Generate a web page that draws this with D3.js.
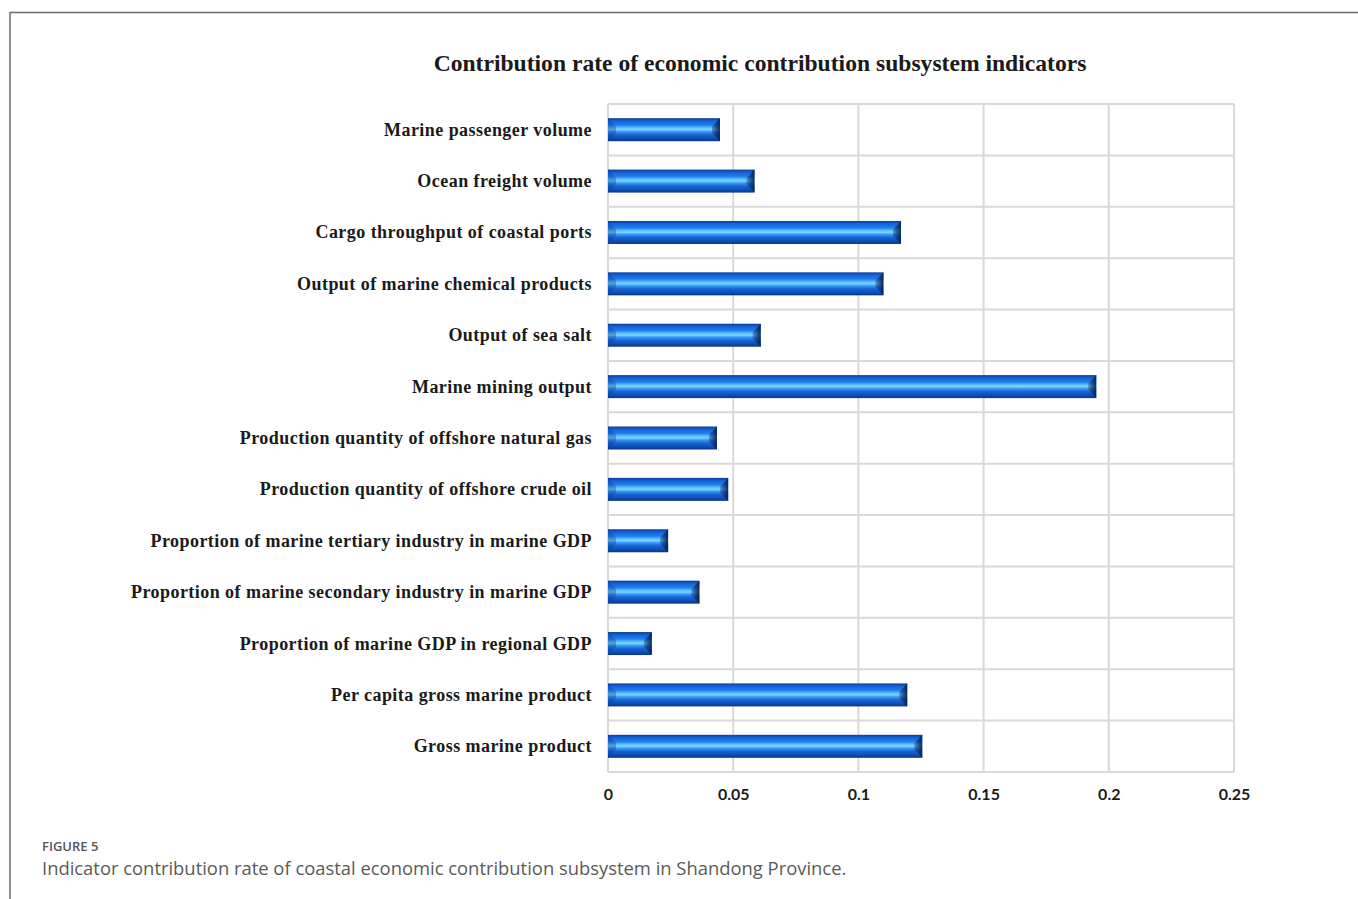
<!DOCTYPE html>
<html>
<head>
<meta charset="utf-8">
<script src="https://cdn.jsdelivr.net/npm/d3@7"></script>
<style>
  html, body { margin: 0; padding: 0; background: #fff; }
  svg { display: block; }
</style>
</head>
<body>
<svg id="chart" width="1358" height="899"></svg>
<script>
// Indicators, listed top to bottom
const categories = [
  "Marine passenger volume",
  "Ocean freight volume",
  "Cargo throughput of coastal ports",
  "Output of marine chemical products",
  "Output of sea salt",
  "Marine mining output",
  "Production quantity of offshore natural gas",
  "Production quantity of offshore crude oil ",
  "Proportion of marine tertiary industry in marine GDP",
  "Proportion of marine secondary industry in marine GDP",
  "Proportion of marine GDP in regional GDP",
  "Per capita gross marine product",
  "Gross marine product"
];
// Contribution rate of each indicator
const values = [0.0447, 0.0585, 0.117, 0.110, 0.061, 0.195, 0.0435, 0.048, 0.024, 0.0365, 0.0175, 0.1195, 0.1255];
const tickValues = [0, 0.05, 0.1, 0.15, 0.2, 0.25];
const tickLabels = ["0", "0.05", "0.1", "0.15", "0.2", "0.25"];

const svg = d3.select("#chart");

// outer figure border (top and left rules)
svg.append("line").attr("x1", 10).attr("y1", 12.5).attr("x2", 1358).attr("y2", 12.5)
  .attr("stroke", "#6b6b6b").attr("stroke-width", 1.5);
svg.append("line").attr("x1", 10).attr("y1", 12).attr("x2", 10).attr("y2", 899)
  .attr("stroke", "#6b6b6b").attr("stroke-width", 1.5);

const plot = { left: 608, right: 1234, top: 104, bottom: 772 };

const x = d3.scaleLinear().domain([0, 0.25]).range([plot.left, plot.right]);
const y = d3.scaleBand().domain(categories).range([plot.top, plot.bottom]).paddingInner(0).paddingOuter(0);

// gradient for the glossy cylinder bars
const defs = svg.append("defs");
const grad = defs.append("linearGradient").attr("id", "barGrad")
  .attr("x1", 0).attr("y1", 0).attr("x2", 0).attr("y2", 1);
[[0, "#0b3d93"], [0.12, "#1660d6"], [0.3, "#1f7ff0"], [0.42, "#5cc2ff"], [0.5, "#7fd3ff"],
 [0.58, "#3a9cf5"], [0.72, "#1565d6"], [0.88, "#0e4db5"], [1, "#0a3682"]]
  .forEach(([o, c]) => grad.append("stop").attr("offset", o).attr("stop-color", c));

const endGrad = defs.append("linearGradient").attr("id", "endGrad")
  .attr("x1", 0).attr("y1", 0).attr("x2", 1).attr("y2", 0);
endGrad.append("stop").attr("offset", 0).attr("stop-color", "#0a2f6e").attr("stop-opacity", 0.35);
endGrad.append("stop").attr("offset", 1).attr("stop-color", "#06214f").attr("stop-opacity", 0.95);

// grid
const grid = svg.append("g");
grid.selectAll("line.v").data(tickValues).join("line")
  .attr("x1", d => x(d)).attr("x2", d => x(d))
  .attr("y1", plot.top).attr("y2", plot.bottom)
  .attr("stroke", "#d9d9d9").attr("stroke-width", 2);
const hLines = categories.map(c => y(c)).concat([plot.bottom]);
grid.selectAll("line.h").data(hLines).join("line")
  .attr("x1", plot.left).attr("x2", plot.right)
  .attr("y1", d => d).attr("y2", d => d)
  .attr("stroke", "#d9d9d9").attr("stroke-width", 2);

// bars
const barH = 23;
const bars = svg.append("g").selectAll("g").data(categories).join("g");
bars.append("rect")
  .attr("x", x(0))
  .attr("y", (d) => y(d) + (y.bandwidth() - barH) / 2)
  .attr("width", (d, i) => x(values[i]) - x(0))
  .attr("height", barH)
  .attr("fill", "url(#barGrad)");
// bevelled right end
bars.append("polygon")
  .attr("points", (d, i) => {
    const x1 = x(values[i]), y0 = y(d) + (y.bandwidth() - barH) / 2, b = 8;
    return [[x1, y0], [x1, y0 + barH], [x1 - b, y0 + barH / 2 + 3], [x1 - b, y0 + barH / 2 - 3]].join(" ");
  })
  .attr("fill", "url(#endGrad)");
// bevelled left end, lighter
bars.append("polygon")
  .attr("points", (d) => {
    const x0 = x(0), y0 = y(d) + (y.bandwidth() - barH) / 2, b = 8;
    return [[x0, y0], [x0 + b, y0 + barH / 2 - 3], [x0 + b, y0 + barH / 2 + 3], [x0, y0 + barH]].join(" ");
  })
  .attr("fill", "#0a3a8a").attr("opacity", 0.35);

// category labels
svg.append("g").selectAll("text").data(categories).join("text")
  .attr("x", 592)
  .attr("y", d => y(d) + y.bandwidth() / 2 + 6)
  .attr("text-anchor", "end")
  .attr("font-family", "'Liberation Serif', 'Times New Roman', serif")
  .attr("font-weight", "bold")
  .attr("font-size", 18)
  .attr("letter-spacing", 0.45)
  .attr("fill", "#1a1a1a")
  .text(d => d);

// x axis tick labels
const xAxis = d3.axisBottom(x).tickValues(tickValues).tickFormat((d, i) => tickLabels[i]).tickSize(0).tickPadding(0);
const axisG = svg.append("g").attr("transform", `translate(0, ${plot.bottom + 17})`).call(xAxis);
axisG.select(".domain").remove();
axisG.selectAll("text")
  .attr("font-family", "Lato, 'Open Sans', sans-serif")
  .attr("font-weight", "bold")
  .attr("font-size", 16)
  .attr("fill", "#1a1a1a");

// title
svg.append("text")
  .attr("x", 760).attr("y", 71)
  .attr("text-anchor", "middle")
  .attr("font-family", "'Liberation Serif', 'Times New Roman', serif")
  .attr("font-weight", "bold")
  .attr("font-size", 23.6)
  .attr("fill", "#1a1a1a")
  .text("Contribution  rate of economic contribution  subsystem indicators");

// caption
svg.append("text")
  .attr("x", 42).attr("y", 851)
  .attr("font-family", "'Open Sans', sans-serif")
  .attr("font-weight", 600)
  .attr("font-size", 13)
  .attr("fill", "#555")
  .text("FIGURE 5");
svg.append("text")
  .attr("x", 42).attr("y", 875)
  .attr("font-family", "'Open Sans', sans-serif")
  .attr("font-size", 18.4)
  .attr("fill", "#5a5a5a")
  .text("Indicator contribution rate of coastal economic contribution subsystem in Shandong Province.");
</script>
</body>
</html>
